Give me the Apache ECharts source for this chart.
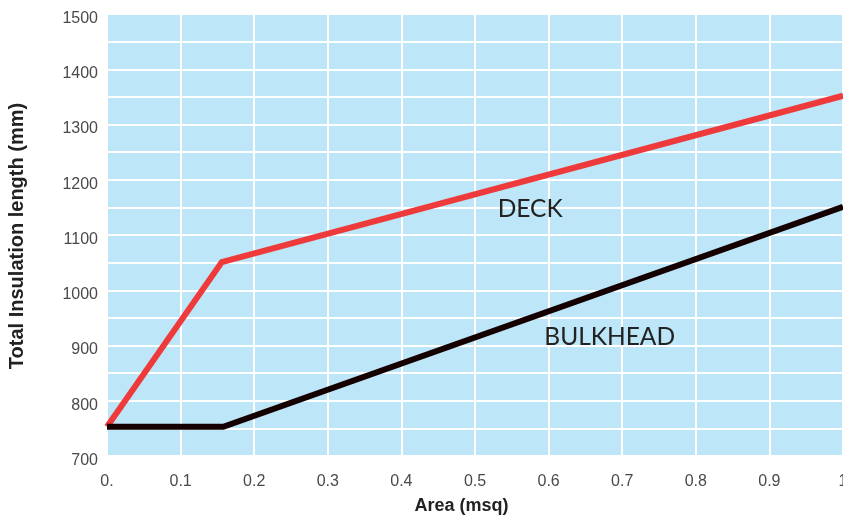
<!DOCTYPE html>
<html>
<head>
<meta charset="utf-8">
<script src="https://cdn.jsdelivr.net/npm/echarts@6/dist/echarts.min.js"></script>
<style>html,body{margin:0;padding:0;background:#fff}#c{width:843px;height:516px}</style>
</head>
<body>
<div id="c"></div>
<script>
const xTitle = 'Area (msq)';
const yTitle = 'Total Insulation length (mm)';
const deckX = [0, 0.156, 1.0];
const deckY = [753, 1051, 1352];
const bulkX = [0, 0.158, 1.0];
const bulkY = [753, 753, 1151];
const deckLabel = 'DECK';
const bulkLabel = 'BULKHEAD';
const deckLabelAt = [0.575, 1146];
const bulkLabelAt = [0.683, 915];

const chart = echarts.init(document.getElementById('c'));
const lblFont = {fontFamily: '"Liberation Sans", Arial, sans-serif', fontSize: 16, color: '#4a4a4a'};
const tag = (txt, at) => ({
  symbol: 'circle', symbolSize: 1, silent: true,
  itemStyle: {color: 'rgba(0,0,0,0)'},
  label: {show: true, formatter: txt, position: 'inside', fontFamily: 'Lato, "Open Sans", sans-serif', fontSize: 24.5, color: '#222'},
  data: [{coord: at, name: txt}]
});
chart.setOption({
  animation: false,
  grid: {left: 107, right: 0, top: 14, bottom: 60, show: true, backgroundColor: '#bde6f8', borderWidth: 0, outerBoundsMode: 'none', containLabel: false},
  xAxis: {
    type: 'value', min: 0, max: 1, interval: 0.1,
    name: xTitle, nameLocation: 'middle', nameGap: 41,
    nameTextStyle: {fontFamily: '"Liberation Sans", Arial, sans-serif', fontSize: 18, fontWeight: 'bold', color: '#222', padding: [0, 27, 0, 0]},
    axisLine: {show: false}, axisTick: {show: false},
    axisLabel: Object.assign({margin: 18, formatter: v => v === 0 ? '0.' : (Math.abs(v - 1) < 1e-9 ? '1' : v.toFixed(1))}, lblFont),
    splitLine: {show: true, lineStyle: {color: '#fff', width: 2}}
  },
  yAxis: {
    type: 'value', min: 700, max: 1500, interval: 50,
    name: yTitle, nameLocation: 'middle', nameGap: 80,
    nameTextStyle: {fontFamily: '"Liberation Sans", Arial, sans-serif', fontSize: 20, fontWeight: 'bold', color: '#222', padding: [0, 2, 0, 0]},
    axisLine: {show: false}, axisTick: {show: false},
    axisLabel: Object.assign({margin: 9, formatter: v => (v % 100 === 0 ? '{a|' + v + '}' : ''),
      rich: {a: Object.assign({padding: [9, 0, 0, 0]}, lblFont)}}, lblFont),
    splitLine: {show: true, lineStyle: {color: '#fff', width: 2}}
  },
  series: [
    {type: 'line', data: bulkX.map((x, i) => [x, bulkY[i]]), symbol: 'none',
     lineStyle: {color: '#140000', width: 6, cap: 'butt', join: 'miter'}, z: 3,
     markPoint: tag(bulkLabel, bulkLabelAt)},
    {type: 'line', data: deckX.map((x, i) => [x, deckY[i]]), symbol: 'none',
     lineStyle: {color: '#ee3a3a', width: 6, cap: 'butt', join: 'miter'}, z: 2,
     markPoint: tag(deckLabel, deckLabelAt)}
  ]
});
</script>
</body>
</html>
